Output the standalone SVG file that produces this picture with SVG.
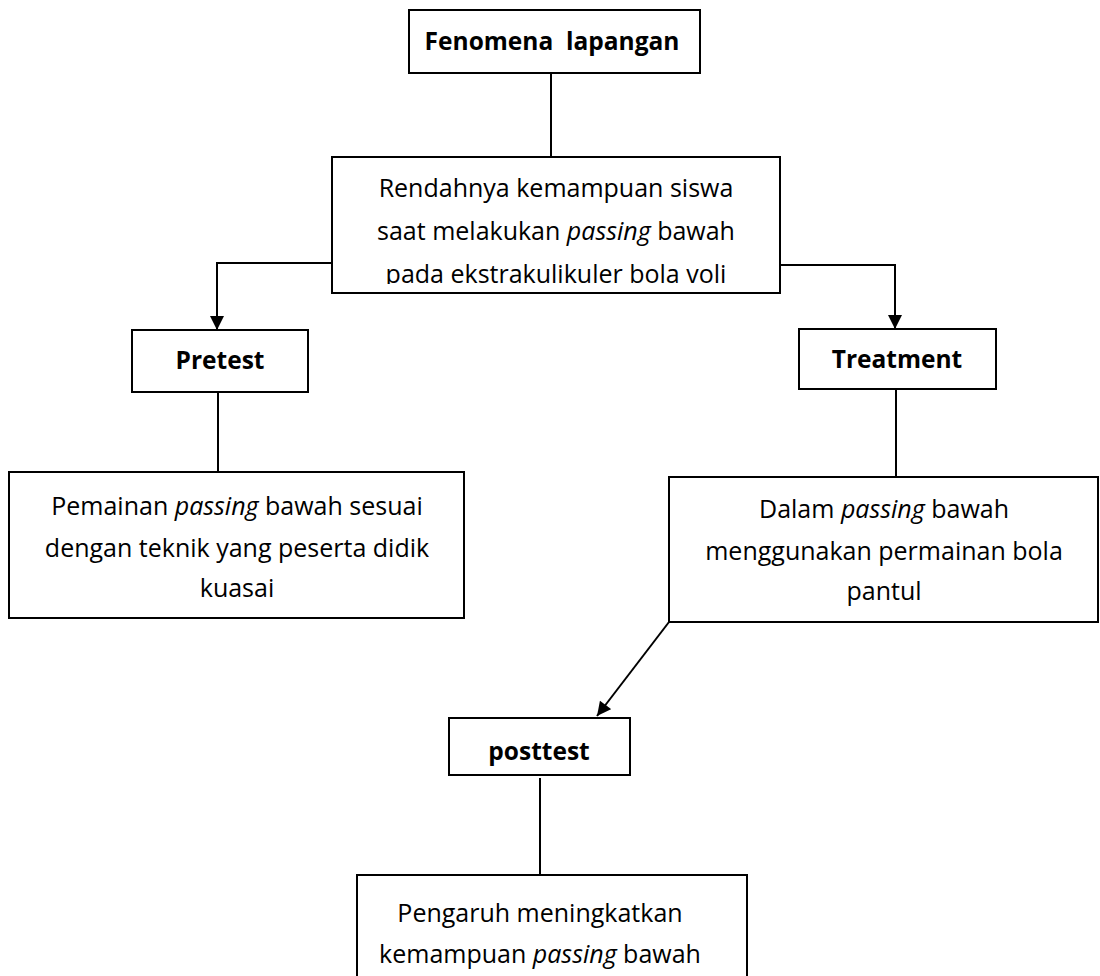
<svg xmlns="http://www.w3.org/2000/svg" width="1100" height="976" viewBox="0 0 1100 976">
<defs>
<style>
.box{fill:#fff;stroke:#000;stroke-width:2}
.t{font-family:"Comic Sans MS","Open Sans",sans-serif;font-size:25px;fill:#000;text-anchor:middle}
.b{font-weight:bold;font-size:24.5px}
.i{font-style:italic}
.c{fill:none;stroke:#000;stroke-width:2}
</style>
<marker id="ah" viewBox="0 0 10 10" refX="10" refY="5" markerWidth="7.5" markerHeight="7" orient="auto" markerUnits="strokeWidth">
<path d="M0,0 L10,5 L0,10 z" fill="#000"/>
</marker>
<clipPath id="clipMain"><rect x="332" y="157" width="448" height="127"/></clipPath>
</defs>
<rect width="1100" height="976" fill="#fff"/>
<g id="connectors">
<line class="c" x1="551" y1="73" x2="551" y2="157"/>
<path class="c" d="M332,263 H217 V330" marker-end="url(#ah)"/>
<path class="c" d="M780,265 H895 V329" marker-end="url(#ah)"/>
<line class="c" x1="218" y1="392" x2="218" y2="472"/>
<line class="c" x1="896" y1="389" x2="896" y2="477"/>
<line class="c" x1="669" y1="622" x2="597" y2="716" marker-end="url(#ah)"/>
<line class="c" x1="540" y1="778" x2="540" y2="875"/>
</g>
<g id="n-fenomena">
<rect class="box" x="409" y="10" width="291" height="63"/>
<text class="t b" x="552" y="50" xml:space="preserve">Fenomena  lapangan</text>
</g>
<g id="n-rendahnya">
<rect class="box" x="332" y="157" width="448" height="136"/>
<g clip-path="url(#clipMain)">
<text class="t" x="556" y="197">Rendahnya kemampuan siswa</text>
<text class="t" x="556" y="240">saat melakukan <tspan class="i">passing</tspan> bawah</text>
<text class="t" x="556" y="283">pada ekstrakulikuler bola voli</text>
</g>
</g>
<g id="n-pretest">
<rect class="box" x="132" y="330" width="176" height="62"/>
<text class="t b" x="220" y="369">Pretest</text>
</g>
<g id="n-treatment">
<rect class="box" x="799" y="329" width="197" height="60"/>
<text class="t b" x="897" y="368">Treatment</text>
</g>
<g id="n-pemainan">
<rect class="box" x="9" y="472" width="455" height="146"/>
<text class="t" x="237" y="515">Pemainan <tspan class="i">passing</tspan> bawah sesuai</text>
<text class="t" x="237" y="557">dengan teknik yang peserta didik</text>
<text class="t" x="237" y="597">kuasai</text>
</g>
<g id="n-dalam">
<rect class="box" x="669" y="477" width="429" height="145"/>
<text class="t" x="884" y="518">Dalam <tspan class="i">passing</tspan> bawah</text>
<text class="t" x="884" y="560">menggunakan permainan bola</text>
<text class="t" x="884" y="600">pantul</text>
</g>
<g id="n-posttest">
<rect class="box" x="449" y="718" width="181" height="57"/>
<text class="t b" x="539" y="760">posttest</text>
</g>
<g id="n-pengaruh">
<rect class="box" x="357" y="875" width="390" height="120"/>
<text class="t" x="540" y="922">Pengaruh meningkatkan</text>
<text class="t" x="540" y="963">kemampuan <tspan class="i">passing</tspan> bawah</text>
</g>
</svg>
